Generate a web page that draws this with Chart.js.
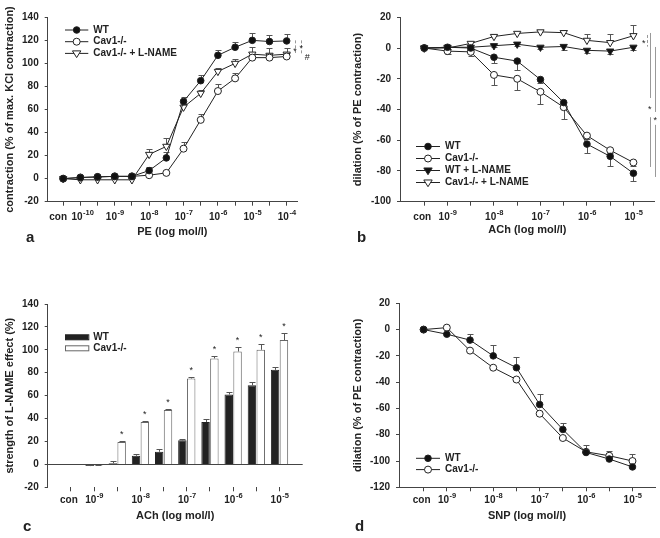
<!DOCTYPE html>
<html>
<head>
<meta charset="utf-8">
<script src="https://cdn.jsdelivr.net/npm/chart.js@4.4.1/dist/chart.umd.min.js"></script>
<style>
  body { margin: 0; background: #fff; width: 660px; height: 538px; position: relative; overflow: hidden; }
  canvas { position: absolute; }
</style>
</head>
<body>
<canvas id="pa" width="330" height="269" style="left:0;top:0"></canvas>
<canvas id="pb" width="330" height="269" style="left:330px;top:0"></canvas>
<canvas id="pc" width="330" height="269" style="left:0;top:269px"></canvas>
<canvas id="pd" width="330" height="269" style="left:330px;top:269px"></canvas>
<script>
/* Four panels: PE contraction, ACh dilation, L-NAME effect (bars), SNP dilation.
   x positions are half-log dose steps; index 0 is the control ("con").
   Tick labels use "10^-9" notation; the exponent is drawn raised. */

// a — PE, doses con, 1e-10 ... 1e-4
const peLabels = ['con', '10^-10', '', '10^-9', '', '10^-8', '', '10^-7', '', '10^-6', '', '10^-5', '', '10^-4'];
const peWT       = [0, 1, 1.5, 2, 2, 7, 18, 67, 85, 107, 114, 120, 119, 119.5];
const peWTErr    = [0, 0.5, 0.5, 0.5, 0.5, 3, 5, 4, 5, 5, 5, 6, 6, 6];
const peCav      = [0, 1, 1.5, 2, 2, 3, 5, 26, 51, 76, 87, 105, 105, 106];
const peCavErr   = [0, 0, 0, 0, 0, 0, 0, 6, 5, 6, 5, 5, 4, 3];
const peCavLN    = [0, -1, -1, -1, -1, 21, 28, 62, 74, 93, 100, 108, 107, 108];
const peCavLNErr = [0, 0, 0, 0, 0, 5, 7, 3, 3, 3, 4, 6, 6, 5];

// b, c, d — ACh / SNP, doses con, 1e-9 ... 1e-5
const doseLabels = ['con', '10^-9', '', '10^-8', '', '10^-7', '', '10^-6', '', '10^-5'];
const achWT       = [0, 0.5, 0, -6, -8.5, -20.5, -35.5, -62.5, -70.5, -81.5];
const achWTErr    = [0, 1, 1, 4, 6, 2, 2, 6, 6, 5];
const achCav      = [0, -2, -2.5, -17.5, -20, -28.5, -38.5, -57, -66.5, -74.5];
const achCavErr   = [0, 2, 3, 6.5, 7, 8, 7.5, 2, 2, 2];
const achWTLN     = [0, 0.5, 0.5, 1.5, 2.5, 0.5, 1, -1.5, -2, 0.5];
const achWTLNErr  = [0, 1, 1, 1, 1, 1, 2, 2, 2, 2];
const achCavLN    = [0, 0, 3, 7.5, 9.5, 10.5, 10, 5, 3.5, 8];
const achCavLNErr = [0, 0, 1, 1, 1, 1, 2, 4, 5.5, 7];

const lnWT     = [null, -1.5, 1, 7.5, 11, 21, 37, 61, 69, 82.5];
const lnWTErr  = [0, 1, 2, 1.5, 2, 1.5, 3, 2.5, 2.5, 2.5];
const lnCav    = [null, -1, 19.5, 37, 47.5, 75, 92.5, 98.5, 100, 108.5];
const lnCavErr = [0, 0.5, 1, 1, 1, 1.5, 2.5, 4, 5.5, 6.5];
const lnStars  = [0, 0, 1, 1, 1, 1, 1, 1, 1, 1];

const snpWT     = [0, -3.5, -8, -20, -29, -57, -76, -93.5, -98.5, -104.5];
const snpWTErr  = [0, 0, 5, 8.5, 8, 8, 5, 0, 0, 0];
const snpCav    = [0, 1.5, -16, -29, -38, -64, -82.5, -93, -96, -100];
const snpCavErr = [0, 0, 0, 0, 0, 0, 0, 5, 4, 5];

const FONT = "'Liberation Sans', Arial, sans-serif";
const INK = '#222', AX = '#444', ERR = '#555', SIG = '#999';
Chart.defaults.font.family = FONT;
Chart.defaults.font.size = 10;
Chart.defaults.font.weight = 'bold';
Chart.defaults.color = INK;

const FILLED = { fill: '#111', shape: 'circle', r: 3.3 };
const OPEN = { fill: '#fff', shape: 'circle', r: 3.5 };
const TRI_FILLED = { fill: '#111', shape: 'triangle', rot: 180, r: 4.2 };
const TRI_OPEN = { fill: '#fff', shape: 'triangle', rot: 180, r: 4.2 };

const pts = vals => vals.map((v, i) => ({ x: i, y: v })).filter(p => p.y != null);

function series(label, vals, errs, dir, st) {
  return {
    label, data: pts(vals), errs, errDir: dir,
    borderColor: INK, borderWidth: 1, tension: 0,
    pointStyle: st.shape, pointRotation: st.rot || 0, pointRadius: st.r,
    pointBackgroundColor: st.fill, pointBorderColor: INK, pointBorderWidth: 1,
  };
}

function bars(label, vals, errs, fill, edge, stars) {
  return {
    label, data: pts(vals), errs, errDir: 1, stars,
    backgroundColor: fill, borderColor: edge, borderWidth: 1,
    categoryPercentage: 0.76, barPercentage: 0.96,
  };
}

// x: linear dose index axis, one tick mark per step; the labels are drawn by the deco plugin
function xAxis(min, max, labels, title, h, titlePad, border = true) {
  return {
    type: 'linear', min, max, offset: false,
    labels,
    afterBuildTicks: s => { s.ticks = labels.map((_, i) => ({ value: i })); },
    afterFit: s => { s.height = h; },
    grid: { drawOnChartArea: false, offset: false, tickLength: 4, color: AX },
    border: { display: border, color: AX },
    ticks: { autoSkip: false, maxRotation: 0, callback: () => '' },
    title: { display: true, text: title, font: { size: 11, weight: 'bold' }, padding: { top: 0, bottom: titlePad } },
  };
}

function yAxis(min, max, title, w, titlePad, zeroLine = false) {
  return {
    min, max,
    afterFit: s => { s.width = w; },
    ticks: { stepSize: 20, padding: 6 },
    grid: {
      drawOnChartArea: zeroLine, tickLength: 3, tickColor: AX,
      color: c => (zeroLine && c.tick && c.tick.value === 0 ? AX : 'rgba(0,0,0,0)'),
    },
    border: { color: AX },
    title: { display: true, text: title, font: { size: 11, weight: 'bold' }, padding: { top: titlePad, bottom: 0 } },
  };
}

function drawErrs(chart) {
  const { ctx } = chart, y = chart.scales.y;
  ctx.save();
  ctx.strokeStyle = ERR; ctx.lineWidth = 1;
  chart.data.datasets.forEach((ds, di) => {
    if (!ds.errs) return;
    chart.getDatasetMeta(di).data.forEach((el, i) => {
      const d = ds.data[i], e = ds.errs[d.x];
      if (!e) return;
      const x = Math.round(el.x) + 0.5;
      const y0 = y.getPixelForValue(d.y), y1 = Math.round(y.getPixelForValue(d.y + ds.errDir * e)) + 0.5;
      ctx.beginPath();
      ctx.moveTo(x, y0); ctx.lineTo(x, y1);
      ctx.moveTo(x - 3, y1); ctx.lineTo(x + 3, y1);
      ctx.stroke();
      if (ds.stars && ds.stars[d.x]) {
        ctx.fillStyle = INK; ctx.font = `normal 9px ${FONT}`;
        ctx.textAlign = 'center'; ctx.textBaseline = 'alphabetic';
        ctx.fillText('*', el.x, y1 - 5);
      }
    });
  });
  ctx.restore();
}

const errPlugin = {
  id: 'errs',
  beforeDatasetsDraw(chart) { if (chart.config.type === 'line') drawErrs(chart); },
  afterDatasetsDraw(chart) { if (chart.config.type === 'bar') drawErrs(chart); },
};

function marker(ctx, ds, x, y) {
  const r = ds.pointRadius;
  ctx.beginPath();
  if (ds.pointStyle === 'triangle') {
    ctx.moveTo(x - r, y - r * 0.6); ctx.lineTo(x + r, y - r * 0.6); ctx.lineTo(x, y + r); ctx.closePath();
  } else {
    ctx.arc(x, y, r, 0, Math.PI * 2);
  }
  ctx.fillStyle = ds.pointBackgroundColor; ctx.fill();
  ctx.strokeStyle = INK; ctx.stroke();
}

// dose tick labels with a raised exponent, e.g. 10^-9
function drawTickText(ctx, scale, dy, shift = {}) {
  const labels = scale.options.labels;
  const base = scale.top + dy;
  ctx.fillStyle = INK; ctx.textBaseline = 'alphabetic'; ctx.textAlign = 'left';
  scale.ticks.forEach(t => {
    const txt = labels[t.value];
    if (!txt) return;
    const px = scale.getPixelForValue(t.value) + (shift[t.value] || 0);
    const [b, e] = txt.split('^');
    ctx.font = `bold 10px ${FONT}`;
    const wb = ctx.measureText(b).width;
    ctx.font = `bold 7.5px ${FONT}`;
    const we = e ? ctx.measureText(e).width : 0;
    const x0 = px - (wb + we) / 2;
    ctx.font = `bold 10px ${FONT}`;
    ctx.fillText(b, x0, base);
    if (e) { ctx.font = `bold 7.5px ${FONT}`; ctx.fillText(e, x0 + wb + 0.5, base - 4.5); }
  });
}

// tick texts, legend, significance bars and panel letter
const decoPlugin = {
  id: 'deco',
  afterDraw(chart, args, o) {
    const { ctx } = chart, x = chart.scales.x, y = chart.scales.y;
    ctx.save();
    ctx.lineWidth = 1;
    drawTickText(ctx, x, o.tickDy, o.tickShift);
    const lg = o.legend;
    if (lg) {
      chart.data.datasets.forEach((ds, i) => {
        const ly = lg.y + i * lg.gap;
        if (lg.box) {
          ctx.fillStyle = ds.backgroundColor; ctx.strokeStyle = ds.borderColor;
          ctx.fillRect(lg.x, ly - 2.5, lg.len, 5); ctx.strokeRect(lg.x + 0.5, ly - 2.5, lg.len, 5);
        } else {
          ctx.strokeStyle = INK;
          ctx.beginPath(); ctx.moveTo(lg.x, ly); ctx.lineTo(lg.x + lg.len, ly); ctx.stroke();
          marker(ctx, ds, lg.x + lg.len / 2, ly);
        }
        ctx.fillStyle = INK; ctx.font = `bold 10px ${FONT}`;
        ctx.textAlign = 'left'; ctx.textBaseline = 'middle';
        ctx.fillText(ds.label, lg.x + lg.len + 5, ly);
      });
    }
    ctx.strokeStyle = SIG;
    (o.lines || []).forEach(l => {
      const px = Math.round(x.getPixelForValue(l.x)) + 0.5;
      ctx.setLineDash(l.dash || []);
      ctx.beginPath();
      ctx.moveTo(px, y.getPixelForValue(l.y1)); ctx.lineTo(px, y.getPixelForValue(l.y2));
      ctx.stroke();
    });
    ctx.setLineDash([]);
    ctx.fillStyle = INK; ctx.font = `normal 9px ${FONT}`;
    ctx.textAlign = 'center'; ctx.textBaseline = 'middle';
    (o.marks || []).forEach(m => ctx.fillText(m.t, x.getPixelForValue(m.x), y.getPixelForValue(m.y) + 2));
    if (o.letter) {
      ctx.font = `bold 15px ${FONT}`; ctx.textAlign = 'left'; ctx.textBaseline = 'alphabetic';
      ctx.fillText(o.letter.t, o.letter.x, o.letter.y);
    }
    ctx.restore();
  },
};

Chart.register(errPlugin, decoPlugin);

function options(pad, xs, ys, deco) {
  return {
    responsive: false, animation: false, events: [],
    layout: { padding: { left: 0, bottom: 0, ...pad } },
    scales: { x: xs, y: ys },
    plugins: { legend: { display: false }, tooltip: { enabled: false }, deco },
  };
}

new Chart(document.getElementById('pa'), {
  type: 'line',
  data: { datasets: [
    series('WT', peWT, peWTErr, 1, FILLED),
    series('Cav1-/-', peCav, peCavErr, 1, OPEN),
    series('Cav1-/- + L-NAME', peCavLN, peCavLNErr, 1, TRI_OPEN),
  ] },
  options: options({ top: 17.3, right: 33 },
    xAxis(-0.9, 13.6, peLabels, 'PE (log mol/l)', 67.3, 30.1),
    yAxis(-20, 140, 'contraction (% of max. KCl contraction)', 47.7, 3.4),
    {
      tickDy: 18, tickShift: { 0: -5, 1: 2 },
      legend: { x: 65, y: 30, gap: 11.7, len: 23.3 },
      lines: [{ x: 13.49, y1: 120, y2: 109, dash: [3, 2] }, { x: 13.84, y1: 120, y2: 108, dash: [3, 2] }],
      marks: [{ x: 13.49, y: 112, t: '*' }, { x: 13.84, y: 115, t: '*' }, { x: 14.2, y: 107, t: '#' }],
      letter: { t: 'a', x: 26, y: 242 },
    }),
});

new Chart(document.getElementById('pb'), {
  type: 'line',
  data: { datasets: [
    series('WT', achWT, achWTErr, -1, FILLED),
    series('Cav1-/-', achCav, achCavErr, -1, OPEN),
    series('WT + L-NAME', achWTLN, achWTLNErr, -1, TRI_FILLED),
    series('Cav1-/- + L-NAME', achCavLN, achCavLNErr, 1, TRI_OPEN),
  ] },
  options: options({ top: 17.3, right: 5 },
    xAxis(-1.044, 9.92, doseLabels, 'ACh (log mol/l)', 67.3, 32.4),
    yAxis(-100, 20, 'dilation (% of PE contraction)', 70, 21.7),
    {
      tickDy: 18, tickShift: { 0: -2 },
      legend: { x: 86, y: 146.5, gap: 12, len: 24 },
      lines: [
        { x: 9.6, y1: 8.5, y2: 0.9, dash: [3, 2] },
        { x: 9.7, y1: 9.8, y2: -32.5 }, { x: 9.7, y1: -45, y2: -77.4 },
        { x: 9.94, y1: 0.7, y2: -41.6 }, { x: 9.94, y1: -50, y2: -83.9 },
      ],
      marks: [{ x: 9.44, y: 4.1, t: '*' }, { x: 9.7, y: -38.5, t: '*' }, { x: 9.94, y: -46, t: '*' }],
      letter: { t: 'b', x: 27, y: 242 },
    }),
});

new Chart(document.getElementById('pc'), {
  type: 'bar',
  data: { datasets: [
    bars('WT', lnWT, lnWTErr, '#222', '#222'),
    bars('Cav1-/-', lnCav, lnCavErr, '#fff', '#666', lnStars),
  ] },
  options: options({ top: 35, right: 27.3 },
    xAxis(-1, 10, doseLabels, 'ACh (log mol/l)', 50.7, 15.7, false),
    yAxis(-20, 140, 'strength of L-NAME effect (%)', 47.7, 3.4, true),
    {
      tickDy: 15.5, tickShift: { 0: -2 },
      legend: { x: 65, y: 68.3, gap: 11, len: 23.3, box: true },
      letter: { t: 'c', x: 23, y: 262 },
    }),
});

new Chart(document.getElementById('pd'), {
  type: 'line',
  data: { datasets: [
    series('WT', snpWT, snpWTErr, 1, FILLED),
    series('Cav1-/-', snpCav, snpCavErr, 1, OPEN),
  ] },
  options: options({ top: 34.3, right: 5 },
    xAxis(-1.06, 9.97, doseLabels, 'SNP (log mol/l)', 50.7, 15.7),
    yAxis(-120, 20, 'dilation (% of PE contraction)', 69, 21.7),
    {
      tickDy: 15.5, tickShift: { 0: -2 },
      legend: { x: 86, y: 189.3, gap: 11.3, len: 24 },
      letter: { t: 'd', x: 25, y: 262 },
    }),
});
</script>
</body>
</html>
